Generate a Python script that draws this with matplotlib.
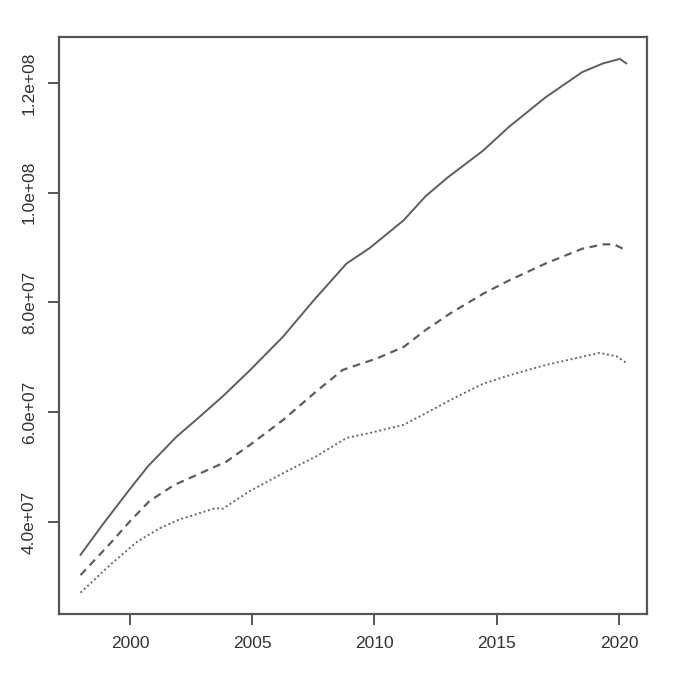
import matplotlib

matplotlib.use("Agg")
import matplotlib.pyplot as plt

plt.rcParams["font.family"] = ["Liberation Sans", "DejaVu Sans"]

# values (year, value in millions)
solid_years = [1997.98, 1998.9, 2000.0, 2000.75, 2001.9, 2002.86, 2003.8, 2004.9,
               2006.27, 2007.5, 2008.86, 2009.8, 2011.2, 2012.1, 2013.0, 2014.45,
               2015.5, 2017.0, 2018.5, 2019.36, 2020.04, 2020.3]
solid_vals = [34.0, 39.6, 46.0, 50.2, 55.5, 59.2, 62.9, 67.6,
              73.8, 80.3, 87.1, 89.9, 95.0, 99.4, 102.8, 107.7,
              112.0, 117.4, 122.0, 123.6, 124.4, 123.6]

dashed_years = [1997.98, 1999.2, 2000.0, 2000.8, 2001.8, 2002.9, 2003.95, 2004.9,
                2006.27, 2007.6, 2008.7, 2010.1, 2011.2, 2012.1, 2013.1, 2014.45,
                2015.5, 2017.0, 2018.5, 2019.36, 2019.8, 2020.3]
dashed_vals = [30.3, 36.1, 40.1, 43.8, 46.7, 48.9, 51.0, 54.0,
               58.6, 63.7, 67.7, 69.8, 71.9, 75.0, 78.0, 81.6,
               84.0, 87.1, 89.8, 90.6, 90.6, 89.5]

dotted_years = [1997.98, 1999.2, 2000.3, 2001.2, 2002.0, 2003.5, 2003.8, 2004.9,
                2006.27, 2007.6, 2008.86, 2009.8, 2011.2, 2012.1, 2013.1, 2014.45,
                2015.5, 2017.0, 2018.5, 2019.2, 2019.9, 2020.3]
dotted_vals = [27.1, 32.2, 36.4, 38.8, 40.4, 42.5, 42.4, 45.6,
               48.9, 51.9, 55.3, 56.2, 57.7, 59.8, 62.2, 65.2,
               66.7, 68.6, 70.1, 70.8, 70.2, 69.0]

x_ticks = [2000, 2005, 2010, 2015, 2020]
y_ticks = [4.0e7, 6.0e7, 8.0e7, 1.0e8, 1.2e8]
y_labels = ["4.0e+07", "6.0e+07", "8.0e+07", "1.0e+08", "1.2e+08"]

line_color = "#5e5e5e"
axis_color = "#555555"

fig = plt.figure(figsize=(6.87, 6.85), dpi=100)
ax = fig.add_axes([0.0859, 0.1036, 0.8559, 0.8424])

ax.plot(solid_years, [v * 1e6 for v in solid_vals], color=line_color, lw=1.4,
        linestyle="-")
ax.plot(dashed_years, [v * 1e6 for v in dashed_vals], color=line_color, lw=1.6,
        linestyle=(0, (3.5, 2.5)))
ax.plot(dotted_years, [v * 1e6 for v in dotted_vals], color="#6a6a6a", lw=1.4,
        linestyle=(0, (1, 1.4)))

ax.set_xlim(1997.1, 2021.15)
ax.set_ylim(2.32e7, 1.284e8)

ax.set_xticks(x_ticks)
ax.set_xticklabels([str(t) for t in x_ticks])
ax.set_yticks(y_ticks)
ax.set_yticklabels(y_labels, rotation=90, va="center")

for spine in ax.spines.values():
    spine.set_color(axis_color)
    spine.set_linewidth(1.6)

ax.tick_params(axis="both", length=8, width=1.4, color=axis_color,
               labelcolor="#333333", labelsize=12.5, pad=8)

fig.savefig("out.png", dpi=100)
